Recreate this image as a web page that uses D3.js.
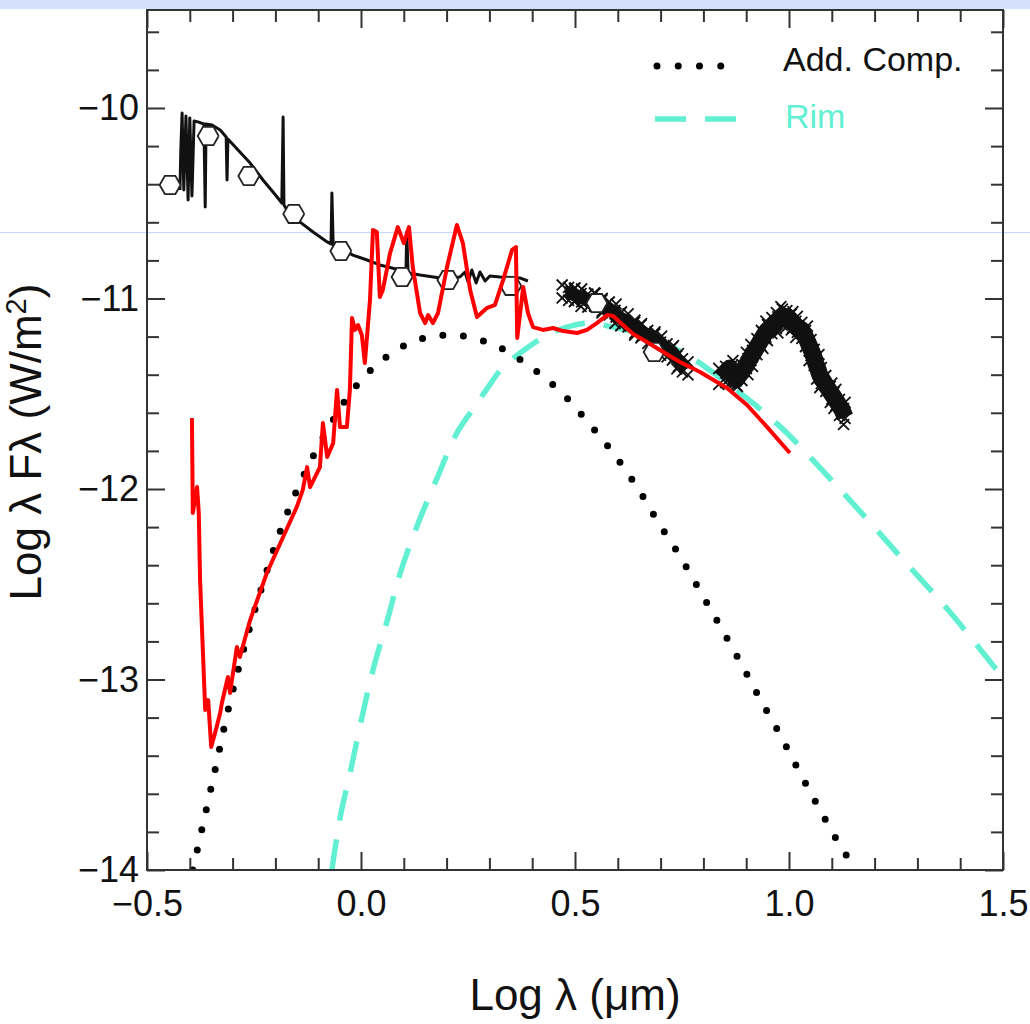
<!DOCTYPE html>
<html><head><meta charset="utf-8">
<script src="https://cdn.jsdelivr.net/npm/d3@7"></script>
<style>
body{margin:0;background:#fff}
svg{display:block}
text{font-family:"Liberation Sans",Arial,Helvetica,sans-serif}
</style>
</head><body>
<svg id="c" width="1030" height="1024"></svg>
<script>
// ---------------- data ----------------
const xTicks = [-0.5, 0, 0.5, 1, 1.5];
const xTickLabels = ["\u22120.5", "0.0", "0.5", "1.0", "1.5"];
const yTicks = [-14, -13, -12, -11, -10];
const yTickLabels = ["\u221214", "\u221213", "\u221212", "\u221211", "\u221210"];

const legendLabels = ["Add. Comp.", "Rim"];

// additional component (dotted)
const addComp = [[-0.393,-14.0],[-0.341,-13.475],[-0.311,-13.165],[-0.276,-12.856],[-0.236,-12.546],[-0.192,-12.241],[-0.138,-11.948],[-0.072,-11.664],[-0.021,-11.486],[0.044,-11.333],[0.126,-11.223],[0.220,-11.192],[0.311,-11.244],[0.393,-11.354],[0.467,-11.491],[0.530,-11.648],[0.589,-11.811],[0.645,-11.990],[0.694,-12.173],[0.745,-12.352],[0.792,-12.535],[0.839,-12.719],[0.886,-12.908],[0.930,-13.092],[0.977,-13.281],[1.021,-13.470],[1.065,-13.654],[1.112,-13.843],[1.138,-13.937]];

// rim (dashed)
const rim = [[-0.068,-14.0],[-0.049,-13.727],[-0.026,-13.496],[0.002,-13.202],[0.028,-12.950],[0.063,-12.677],[0.091,-12.446],[0.131,-12.194],[0.178,-11.942],[0.224,-11.706],[0.262,-11.580],[0.294,-11.475],[0.332,-11.360],[0.388,-11.260],[0.435,-11.192],[0.481,-11.150],[0.528,-11.129],[0.589,-11.150],[0.645,-11.181],[0.706,-11.234],[0.762,-11.297],[0.808,-11.365],[0.855,-11.444],[0.916,-11.549],[0.995,-11.706],[1.077,-11.900],[1.159,-12.100],[1.259,-12.352],[1.376,-12.646],[1.500,-12.992]];

// total model (red)
const redModel = [[-0.395,-11.627],[-0.393,-12.126],[-0.383,-11.990],[-0.379,-12.126],[-0.376,-12.478],[-0.364,-13.160],[-0.357,-13.108],[-0.350,-13.354],[-0.341,-13.281],[-0.329,-13.176],[-0.325,-13.123],[-0.311,-12.987],[-0.306,-13.071],[-0.290,-12.829],[-0.283,-12.882],[-0.259,-12.688],[-0.220,-12.441],[-0.182,-12.252],[-0.150,-12.094],[-0.136,-12.005],[-0.126,-11.885],[-0.119,-11.990],[-0.096,-11.885],[-0.089,-11.654],[-0.079,-11.832],[-0.065,-11.759],[-0.056,-11.480],[-0.049,-11.675],[-0.033,-11.675],[-0.026,-11.480],[-0.021,-11.102],[-0.014,-11.165],[-0.007,-11.139],[0.002,-11.192],[0.009,-11.339],[0.021,-11.008],[0.028,-10.640],[0.037,-10.651],[0.044,-10.992],[0.051,-10.955],[0.068,-10.761],[0.086,-10.625],[0.100,-10.709],[0.112,-10.625],[0.121,-10.835],[0.138,-11.076],[0.150,-11.129],[0.157,-11.087],[0.168,-11.129],[0.180,-11.076],[0.201,-10.835],[0.224,-10.614],[0.238,-10.709],[0.255,-10.955],[0.271,-11.097],[0.294,-11.050],[0.313,-11.034],[0.332,-10.903],[0.353,-10.745],[0.362,-10.730],[0.365,-11.207],[0.379,-10.940],[0.390,-11.076],[0.402,-11.150],[0.425,-11.165],[0.449,-11.155],[0.472,-11.171],[0.505,-11.181],[0.528,-11.165],[0.551,-11.129],[0.575,-11.087],[0.589,-11.092],[0.612,-11.139],[0.636,-11.186],[0.668,-11.228],[0.706,-11.281],[0.745,-11.333],[0.792,-11.386],[0.855,-11.470],[0.902,-11.559],[0.949,-11.675],[1.002,-11.811]];

// observed optical/near-IR spectrum (thin black)
const photosphere = [[-0.423,-10.430],[-0.421,-10.220],[-0.418,-10.026],[-0.414,-10.430],[-0.409,-10.042],[-0.404,-10.483],[-0.400,-10.052],[-0.395,-10.462],[-0.390,-10.068],[-0.381,-10.073],[-0.367,-10.084],[-0.364,-10.520],[-0.362,-10.084],[-0.348,-10.089],[-0.329,-10.115],[-0.315,-10.152],[-0.313,-10.378],[-0.311,-10.163],[-0.283,-10.231],[-0.259,-10.289],[-0.229,-10.378],[-0.196,-10.467],[-0.185,-10.499],[-0.182,-10.047],[-0.180,-10.509],[-0.173,-10.535],[-0.143,-10.598],[-0.112,-10.651],[-0.079,-10.703],[-0.070,-10.714],[-0.068,-10.446],[-0.065,-10.719],[-0.049,-10.735],[-0.019,-10.772],[0.014,-10.798],[0.044,-10.824],[0.091,-10.850],[0.105,-10.861],[0.107,-10.651],[0.110,-10.866],[0.138,-10.877],[0.185,-10.892],[0.231,-10.887],[0.243,-10.861],[0.250,-10.913],[0.259,-10.850],[0.269,-10.919],[0.278,-10.861],[0.290,-10.908],[0.301,-10.882],[0.325,-10.887],[0.371,-10.892],[0.390,-10.908]];

// photometry (open hexagons)
const photometry = [[-0.446,-10.404],[-0.357,-10.147],[-0.262,-10.357],[-0.157,-10.556],[-0.047,-10.751],[0.096,-10.887],[0.203,-10.903],[0.350,-10.934],[0.551,-11.024],[0.685,-11.281]];

// mid-IR spectra (crosses)
const specA = [[0.477,-10.971],[0.485,-10.968],[0.493,-10.976],[0.502,-10.985],[0.512,-10.992],[0.521,-11.000],[0.530,-11.008],[0.540,-11.010],[0.549,-11.013],[0.560,-11.025],[0.570,-11.039],[0.580,-11.055],[0.589,-11.071],[0.597,-11.088],[0.605,-11.102],[0.614,-11.112],[0.624,-11.123],[0.633,-11.140],[0.643,-11.155],[0.652,-11.168],[0.661,-11.181],[0.670,-11.194],[0.680,-11.207],[0.690,-11.222],[0.699,-11.239],[0.707,-11.255],[0.715,-11.270],[0.723,-11.284],[0.731,-11.297],[0.738,-11.315],[0.745,-11.333],[0.751,-11.354],[0.757,-11.375]];
const specB = [[0.843,-11.417],[0.852,-11.390],[0.862,-11.365],[0.869,-11.400],[0.876,-11.428],[0.883,-11.405],[0.890,-11.386],[0.897,-11.360],[0.904,-11.333],[0.911,-11.307],[0.918,-11.281],[0.925,-11.255],[0.932,-11.228],[0.939,-11.202],[0.946,-11.176],[0.953,-11.163],[0.960,-11.150],[0.967,-11.131],[0.974,-11.113],[0.981,-11.100],[0.988,-11.092],[0.995,-11.098],[1.002,-11.108],[1.009,-11.126],[1.016,-11.144],[1.023,-11.154],[1.030,-11.165],[1.036,-11.190],[1.042,-11.218],[1.048,-11.250],[1.054,-11.281],[1.059,-11.312],[1.063,-11.344],[1.068,-11.373],[1.072,-11.402],[1.079,-11.428],[1.086,-11.454],[1.093,-11.478],[1.100,-11.501],[1.106,-11.522],[1.112,-11.543],[1.118,-11.564],[1.124,-11.585],[1.131,-11.622]];

// ---------------- drawing ----------------
const svg = d3.select("#c");
const L = 147, R = 1003, T = 10, B = 870;
const x = d3.scaleLinear().domain([-0.5, 1.5]).range([L, R]);
const y = d3.scaleLinear().domain([-14, -10]).range([B, 108]);

// top band and stray rule (screenshot artefacts)
svg.append("rect").attr("x",0).attr("y",0).attr("width",1030).attr("height",9).attr("fill","#d5e0fd");
svg.append("line").attr("x1",0).attr("x2",1030).attr("y1",232.5).attr("y2",232.5).attr("stroke","#c6d5fb").attr("stroke-width",1);

svg.append("clipPath").attr("id","plot").append("rect").attr("x",L).attr("y",T).attr("width",R-L).attr("height",B-T);
const g = svg.append("g").attr("clip-path","url(#plot)");

const line = d3.line().x(d=>x(d[0])).y(d=>y(d[1]));
const smooth = d3.line().x(d=>x(d[0])).y(d=>y(d[1])).curve(d3.curveCatmullRom.alpha(0.5));

// rim
g.append("path").datum(rim).attr("d", smooth).attr("fill","none")
  .attr("stroke","#62f0d2").attr("stroke-width",5.5).attr("stroke-dasharray","31 19");
// additional component
g.append("path").datum(addComp).attr("d", smooth).attr("fill","none")
  .attr("stroke","#000").attr("stroke-width",7).attr("stroke-linecap","round").attr("stroke-dasharray","0 20.6");
// photosphere spectrum
g.append("path").datum(photosphere).attr("d", line).attr("fill","none")
  .attr("stroke","#111").attr("stroke-width",3).attr("stroke-linejoin","round");

// mid-IR spectra as dense crosses
const xsym = d3.symbol().type(d3.symbolX).size(80);
[specA, specB].forEach((s, k) => {
  g.append("path").datum(s).attr("d", line).attr("fill","none")
    .attr("stroke","#111").attr("stroke-width", k ? 17 : 13).attr("stroke-linejoin","round").attr("stroke-linecap","butt");
  const off = k ? 8 : 6.5;
  [-1, 1].forEach(side => {
    g.selectAll(null).data(s).enter().append("path")
      .attr("d", xsym)
      .attr("transform", (d,i)=>`translate(${x(d[0]) + ((i*7)%5-2)*1.5},${y(d[1]) + side*off + ((i*3)%4-1.5)})`)
      .attr("fill","none").attr("stroke","#111").attr("stroke-width",1.8);
  });
});

// photometry hexagons
const hexR = 10.5;
const hex = d3.line()(d3.range(7).map(i => [hexR*Math.cos(i*Math.PI/3), hexR*Math.sin(i*Math.PI/3)]));
g.selectAll(null).data(photometry).enter().append("path")
  .attr("d", hex).attr("transform", d=>`translate(${x(d[0])},${y(d[1])})`)
  .attr("fill","#fff").attr("stroke","#222").attr("stroke-width",1.8);

// red model
g.append("path").datum(redModel).attr("d", line).attr("fill","none")
  .attr("stroke","#ff0000").attr("stroke-width",4).attr("stroke-linejoin","round");

// ---------------- axes ----------------
const xMinor = d3.range(-5, 16).map(v=>v/10).filter(v=>!xTicks.includes(v));
const yMinor = d3.range(-70, -47).map(v=>Math.round(v*2)/10).filter(v=>!yTicks.includes(v));
const tickColor = "#333";
function style(sel){ sel.select(".domain").remove(); sel.selectAll("line").attr("stroke",tickColor).attr("stroke-width",2); }
function labels(sel){ sel.selectAll("text").attr("fill","#111").attr("font-size",36).attr("font-family","'Liberation Sans',Arial,sans-serif"); }

svg.append("g").attr("transform",`translate(0,${B})`)
  .call(d3.axisBottom(x).tickValues(xTicks).tickSize(-18).tickPadding(20).tickFormat((d,i)=>xTickLabels[i]))
  .call(style).call(labels);
svg.append("g").attr("transform",`translate(0,${B})`)
  .call(d3.axisBottom(x).tickValues(xMinor).tickSize(-12).tickFormat("")).call(style);
svg.append("g").attr("transform",`translate(0,${T})`)
  .call(d3.axisTop(x).tickValues(xTicks).tickSize(-18).tickFormat("")).call(style);
svg.append("g").attr("transform",`translate(0,${T})`)
  .call(d3.axisTop(x).tickValues(xMinor).tickSize(-12).tickFormat("")).call(style);

svg.append("g").attr("transform",`translate(${L},0)`)
  .call(d3.axisLeft(y).tickValues(yTicks).tickSize(-18).tickPadding(8).tickFormat((d,i)=>yTickLabels[i]))
  .call(style).call(labels);
svg.append("g").attr("transform",`translate(${L},0)`)
  .call(d3.axisLeft(y).tickValues(yMinor).tickSize(-12).tickFormat("")).call(style);
svg.append("g").attr("transform",`translate(${R},0)`)
  .call(d3.axisRight(y).tickValues(yTicks).tickSize(-18).tickFormat("")).call(style);
svg.append("g").attr("transform",`translate(${R},0)`)
  .call(d3.axisRight(y).tickValues(yMinor).tickSize(-12).tickFormat("")).call(style);

// frame
svg.append("rect").attr("x",L).attr("y",T).attr("width",R-L).attr("height",B-T)
  .attr("fill","none").attr("stroke","#333").attr("stroke-width",2);

// axis titles
svg.append("text").attr("x",575).attr("y",1010).attr("text-anchor","middle")
  .attr("font-size",44).attr("fill","#111").text("Log \u03bb (\u03bcm)");
const yt = svg.append("text").attr("transform","translate(41,442) rotate(-90)").attr("text-anchor","middle")
  .attr("font-size",44).attr("fill","#111");
yt.append("tspan").text("Log \u03bb F\u03bb (W/m");
yt.append("tspan").attr("dy",-15).attr("font-size",29).text("2");
yt.append("tspan").attr("dy",15).text(")");

// legend
const lg = svg.append("g");
lg.append("line").attr("x1",657).attr("x2",742).attr("y1",66).attr("y2",66)
  .attr("stroke","#000").attr("stroke-width",7).attr("stroke-linecap","round").attr("stroke-dasharray","0 21.25");
lg.append("text").attr("x",783).attr("y",71).attr("font-size",34).attr("fill","#111").text(legendLabels[0]);
lg.append("line").attr("x1",655).attr("x2",737).attr("y1",119).attr("y2",119)
  .attr("stroke","#62f0d2").attr("stroke-width",5.5).attr("stroke-dasharray","31 19");
lg.append("text").attr("x",785).attr("y",128).attr("font-size",34).attr("fill","#62f0d2").text(legendLabels[1]);
</script>
</body></html>
